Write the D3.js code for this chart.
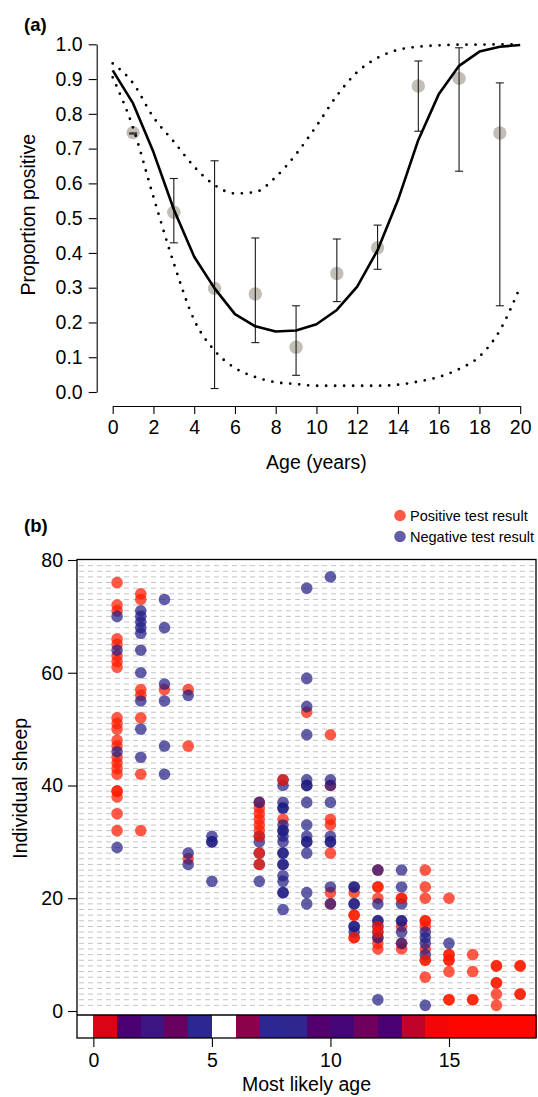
<!DOCTYPE html>
<html>
<head>
<meta charset="utf-8">
<script src="https://cdn.jsdelivr.net/npm/d3@7"></script>
<style>
    body { margin: 0; background: #fff; }
    svg { display: block; font-family: "Liberation Sans", Arial, Helvetica, sans-serif; }
</style>
</head>
<body>
<svg id="chart" width="538" height="1097"></svg>
<script>
// ---- panel (a) data ----
var ageGrid = [0, 1, 2, 3, 4, 5, 6, 7, 8, 9, 10, 11, 12, 13, 14, 15, 16, 17, 18, 19, 20];
var fitted = [0.925, 0.83, 0.69, 0.525, 0.389, 0.298, 0.224, 0.189, 0.174, 0.177, 0.195,
    0.236, 0.303, 0.408, 0.552, 0.725, 0.856, 0.938, 0.979, 0.993, 0.998];
var upperCI = [0.945, 0.888, 0.79, 0.72, 0.648, 0.595, 0.571, 0.575, 0.618, 0.684, 0.765,
    0.852, 0.92, 0.961, 0.984, 0.993, 0.997, 0.999, 0.999, 1.0, 1.0];
var lowerCI = [0.905, 0.76, 0.561, 0.37, 0.207, 0.119, 0.069, 0.043, 0.028, 0.023, 0.018,
    0.018, 0.018, 0.018, 0.021, 0.03, 0.043, 0.066, 0.102, 0.177, 0.303];
var sampleAges = [1, 3, 5, 7, 9, 11, 13, 15, 17, 19];
var sampleProp = [0.746, 0.517, 0.298, 0.282, 0.129, 0.341, 0.415, 0.88, 0.902, 0.745];
var sampleLo = [0.742, 0.429, 0.01, 0.142, 0.048, 0.26, 0.353, 0.75, 0.635, 0.248];
var sampleHi = [0.745, 0.614, 0.665, 0.443, 0.248, 0.44, 0.48, 0.952, 0.99, 0.889];
var ageTicks = [0, 2, 4, 6, 8, 10, 12, 14, 16, 18, 20];
var propTicks = [0, 0.1, 0.2, 0.3, 0.4, 0.5, 0.6, 0.7, 0.8, 0.9, 1.0];

// ---- panel (b) data: [most likely age, individual sheep] ----
var positiveTests = [
    [1, 76], [1, 72], [1, 71], [1, 66], [1, 65], [1, 63], [1, 62], [1, 61], [1, 52], [1, 51], [1, 50],
    [1, 48], [1, 47], [1, 45], [1, 44], [1, 43], [1, 42], [1, 39], [1, 38], [1, 35], [1, 32],
    [2, 74], [2, 73], [2, 57], [2, 56], [2, 52], [2, 42], [2, 32],
    [3, 57],
    [4, 57], [4, 47], [4, 27],
    [7, 37], [7, 36], [7, 35], [7, 34], [7, 33], [7, 32],
    [8, 34],
    [9, 53],
    [10, 49], [10, 40], [10, 34], [10, 33], [10, 28], [10, 21], [10, 19],
    [11, 21], [11, 17], [11, 13],
    [12, 25], [12, 22], [12, 20], [12, 13], [12, 12], [12, 11],
    [13, 20], [13, 15], [13, 12], [13, 11],
    [14, 25], [14, 22], [14, 20], [14, 16], [14, 15], [14, 11], [14, 9], [14, 6],
    [15, 20], [15, 10], [15, 9], [15, 7], [15, 2],
    [16, 10], [16, 7], [16, 2],
    [17, 8], [17, 5], [17, 3], [17, 1],
    [18, 8], [18, 3]
];
var negativeTests = [
    [1, 70], [1, 64], [1, 46], [1, 29],
    [2, 71], [2, 70], [2, 69], [2, 68], [2, 67], [2, 64], [2, 60], [2, 55], [2, 50], [2, 45],
    [3, 73], [3, 68], [3, 58], [3, 55], [3, 47], [3, 42],
    [4, 56], [4, 28], [4, 26],
    [5, 31], [5, 30], [5, 30], [5, 23],
    [7, 37], [7, 31], [7, 30], [7, 28], [7, 26], [7, 23],
    [8, 41], [8, 40], [8, 37], [8, 36], [8, 36], [8, 33], [8, 32], [8, 32], [8, 31], [8, 30],
    [8, 28], [8, 28], [8, 26], [8, 26], [8, 24], [8, 23], [8, 21], [8, 21], [8, 18],
    [9, 75], [9, 59], [9, 54], [9, 49], [9, 41], [9, 40], [9, 40], [9, 37], [9, 33], [9, 31],
    [9, 30], [9, 30], [9, 28], [9, 21], [9, 19],
    [10, 77], [10, 41], [10, 40], [10, 37], [10, 31], [10, 30], [10, 30], [10, 22], [10, 19],
    [11, 22], [11, 22], [11, 19], [11, 19], [11, 15], [11, 15], [11, 14],
    [12, 25], [12, 19], [12, 16], [12, 16], [12, 15], [12, 14], [12, 13], [12, 2],
    [13, 25], [13, 22], [13, 19], [13, 16], [13, 16], [13, 14], [13, 12],
    [14, 14], [14, 13], [14, 12], [14, 10], [14, 1],
    [15, 12]
];
// repeat positive tests, plotted last
var positiveRetests = [
    [7, 31], [7, 28], [7, 26], [8, 41], [12, 15], [12, 14],
    [1, 39], [11, 17], [11, 13], [12, 22], [13, 20], [14, 16], [14, 9],
    [15, 10], [15, 9], [15, 2], [16, 2], [17, 8], [17, 5], [18, 8], [18, 3]
];
// proportion positive per year of age for the colour strip (null = no data)
var stripAges = [0, 1, 2, 3, 4, 5, 6, 7, 8, 9, 10, 11, 12, 13, 14, 15, 16, 17, 18];
var stripProp = [null, 0.87, 0.35, 0.17, 0.46, 0, null, 0.58, 0, 0.02, 0.38, 0.3, 0.48, 0.35,
    0.77, 0.96, 1, 1, 1];
var sheepTicks = [0, 20, 40, 60, 80];
var likelyAgeTicks = [0, 5, 10, 15];
var sheepRows = [];
for (var i = 1; i < 80; i++) sheepRows.push(i);

var posColor = "rgba(255, 25, 0, 0.72)",
    negColor = "rgba(30, 25, 130, 0.7)";

var svg = d3.select("#chart");

// ================= panel (a) =================
var xa = d3.scaleLinear().domain([0, 20]).range([112.7, 520.2]);
var ya = d3.scaleLinear().domain([0, 1]).range([392, 44.3]);

var ga = svg.append("g");

ga.append("text")
    .attr("x", 24).attr("y", 31)
    .style("font-size", "18.5px").style("font-weight", "bold")
    .text("(a)");

var yAxisA = d3.axisLeft(ya).tickValues(propTicks).tickFormat(d3.format(".1f"))
    .tickSize(8).tickSizeOuter(0).tickPadding(6);
var xAxisA = d3.axisBottom(xa).tickValues(ageTicks).tickFormat(d3.format("d"))
    .tickSize(8).tickSizeOuter(0).tickPadding(6);

ga.append("g")
    .attr("class", "y axis")
    .attr("transform", "translate(96.7,0)")
    .call(yAxisA);

ga.append("g")
    .attr("class", "x axis")
    .attr("transform", "translate(0,406)")
    .call(xAxisA);

ga.append("text")
    .attr("transform", "translate(35," + ya(0.51) + ") rotate(-90)")
    .style("text-anchor", "middle")
    .style("font-size", "19.5px")
    .text("Proportion positive");

ga.append("text")
    .attr("x", xa(10)).attr("y", 469)
    .style("text-anchor", "middle")
    .style("font-size", "19.5px")
    .text("Age (years)");

// sample points
ga.selectAll(".pt")
    .data(sampleAges)
    .enter()
    .append("circle")
    .attr("class", "pt")
    .attr("cx", function (d) { return xa(d); })
    .attr("cy", function (d, i) { return ya(sampleProp[i]); })
    .attr("r", 6.7)
    .style("fill", "#c2bdb5");

// error bars
var bars = ga.selectAll(".bar")
    .data(sampleAges)
    .enter()
    .append("g")
    .attr("class", "bar")
    .style("stroke", "#1a1a1a")
    .style("stroke-width", 1.1);

bars.append("line")
    .attr("x1", function (d) { return xa(d); })
    .attr("x2", function (d) { return xa(d); })
    .attr("y1", function (d, i) { return ya(sampleLo[i]); })
    .attr("y2", function (d, i) { return ya(sampleHi[i]); });
bars.append("line")
    .attr("x1", function (d) { return xa(d) - 4; })
    .attr("x2", function (d) { return xa(d) + 4; })
    .attr("y1", function (d, i) { return ya(sampleLo[i]); })
    .attr("y2", function (d, i) { return ya(sampleLo[i]); });
bars.append("line")
    .attr("x1", function (d) { return xa(d) - 4; })
    .attr("x2", function (d) { return xa(d) + 4; })
    .attr("y1", function (d, i) { return ya(sampleHi[i]); })
    .attr("y2", function (d, i) { return ya(sampleHi[i]); });

var lineA = function (vals) {
    return d3.line()
        .x(function (d) { return xa(d); })
        .y(function (d, i) { return ya(vals[i]); })(ageGrid);
};
var smoothA = function (vals) {
    return d3.line()
        .curve(d3.curveMonotoneX)
        .x(function (d) { return xa(d); })
        .y(function (d, i) { return ya(vals[i]); })(ageGrid);
};

ga.append("path")
    .attr("d", lineA(fitted))
    .style("fill", "none").style("stroke", "#000")
    .style("stroke-width", 2.6).style("stroke-linejoin", "round");

[upperCI, lowerCI].forEach(function (ci) {
    ga.append("path")
        .attr("d", smoothA(ci))
        .style("fill", "none").style("stroke", "#000")
        .style("stroke-width", 2.8)
        .style("stroke-linecap", "round")
        .style("stroke-dasharray", "0,9");
});

// ================= panel (b) =================
var xb = d3.scaleLinear().domain([-0.69, 18.67]).range([77, 536]);
var yb = d3.scaleLinear().domain([0, 80]).range([1011, 560]);
var stripColor = d3.scaleLinear().domain([0, 0.35, 1])
    .range(["#2d2891", "#4b0073", "#ff0500"]);

var gb = svg.append("g");

gb.append("text")
    .attr("x", 24).attr("y", 532)
    .style("font-size", "18.5px").style("font-weight", "bold")
    .text("(b)");

// dashed row lines, one per sheep
gb.selectAll(".row")
    .data(sheepRows)
    .enter()
    .append("line")
    .attr("class", "row")
    .attr("x1", 79).attr("x2", 534)
    .attr("y1", function (d) { return yb(d); })
    .attr("y2", function (d) { return yb(d); })
    .style("stroke", "#c4c4c4")
    .style("stroke-width", 1)
    .style("stroke-dasharray", "5,4");

// colour strip
gb.selectAll(".cell")
    .data(stripAges)
    .enter()
    .append("rect")
    .attr("class", "cell")
    .attr("x", function (d) { return d === 0 ? xb.range()[0] : xb(d - 1); })
    .attr("width", function (d) {
        var x0 = d === 0 ? xb.range()[0] : xb(d - 1);
        var x1 = d === stripAges[stripAges.length - 1] ? xb.range()[1] : xb(d);
        return x1 - x0 + 0.6;
    })
    .attr("y", 1015).attr("height", 23)
    .attr("shape-rendering", "crispEdges")
    .style("fill", function (d, i) {
        return stripProp[i] === null ? "#fff" : stripColor(stripProp[i]);
    });

gb.append("line")
    .attr("x1", 77).attr("x2", 536)
    .attr("y1", 1015).attr("y2", 1015)
    .style("stroke", "#000").style("stroke-width", 1.3);

var dots = function (list, col, cls) {
    gb.selectAll("." + cls)
        .data(list)
        .enter()
        .append("circle")
        .attr("class", cls)
        .attr("cx", function (d) { return xb(d[0]); })
        .attr("cy", function (d) { return yb(d[1]); })
        .attr("r", 5.8)
        .style("fill", col);
};
dots(positiveTests, posColor, "pos");
dots(negativeTests, negColor, "neg");
dots(positiveRetests, posColor, "pos2");

gb.append("rect")
    .attr("x", 77).attr("y", 559.5)
    .attr("width", 459).attr("height", 478.5)
    .style("fill", "none").style("stroke", "#000").style("stroke-width", 1.3);

var yAxisB = d3.axisLeft(yb).tickValues(sheepTicks).tickSize(9).tickSizeOuter(0).tickPadding(5);
var xAxisB = d3.axisBottom(xb).tickValues(likelyAgeTicks).tickSize(9).tickSizeOuter(0).tickPadding(6);

gb.append("g")
    .attr("class", "y axis")
    .attr("transform", "translate(77,0)")
    .call(yAxisB)
    .select(".domain").remove();

gb.append("g")
    .attr("class", "x axis")
    .attr("transform", "translate(0,1038)")
    .call(xAxisB)
    .select(".domain").remove();

gb.append("text")
    .attr("transform", "translate(27," + yb(39.5) + ") rotate(-90)")
    .style("text-anchor", "middle")
    .style("font-size", "19.5px")
    .text("Individual sheep");

gb.append("text")
    .attr("x", (xb.range()[0] + xb.range()[1]) / 2).attr("y", 1091)
    .style("text-anchor", "middle")
    .style("font-size", "19.5px")
    .text("Most likely age");

// legend
var legend = [["Positive test result", posColor], ["Negative test result", negColor]];
var lg = gb.selectAll(".legend")
    .data(legend)
    .enter()
    .append("g")
    .attr("class", "legend")
    .attr("transform", function (d, i) { return "translate(400," + (515.5 + i * 21) + ")"; });
lg.append("circle").attr("r", 5.8).style("fill", function (d) { return d[1]; });
lg.append("text")
    .attr("x", 10).attr("y", 5)
    .style("font-size", "14.5px")
    .text(function (d) { return d[0]; });

svg.selectAll(".axis text").style("font-size", "19.5px").style("fill", "#000")
    .style("font-family", "\"Liberation Sans\", Arial, Helvetica, sans-serif");
svg.selectAll(".axis line, .axis path").style("stroke", "#000").style("stroke-width", 1.1);
</script>
</body>
</html>
